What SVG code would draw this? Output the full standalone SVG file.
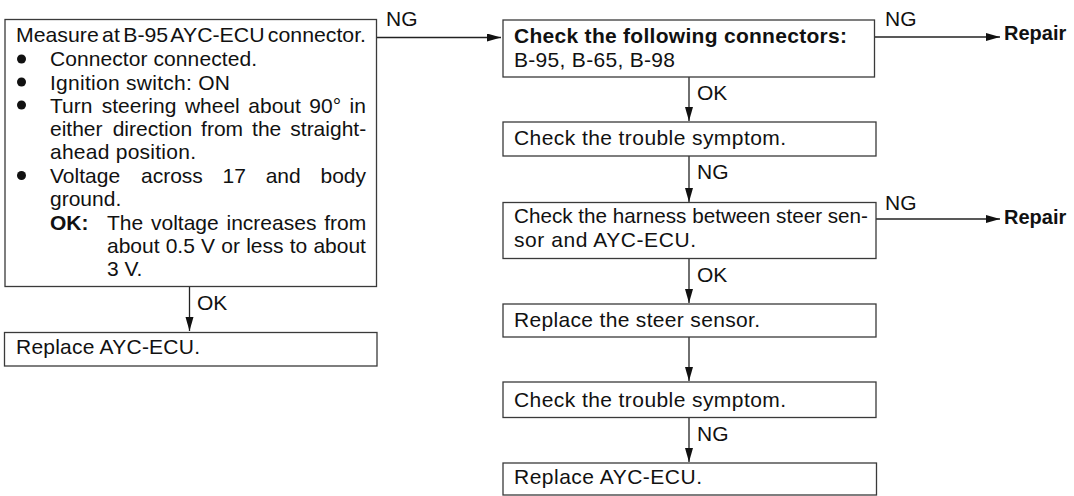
<svg xmlns="http://www.w3.org/2000/svg" width="1074" height="496" viewBox="0 0 1074 496">
<defs>
<style>
.box{fill:#fff;stroke:#3a3a3a;stroke-width:1.3}
.t{font-family:"Liberation Sans",Arial,sans-serif;font-size:21px;fill:#111}
.b{font-family:"Liberation Sans",Arial,sans-serif;font-size:21px;font-weight:bold;fill:#111}
.r{font-family:"Liberation Sans",Arial,sans-serif;font-size:20px;font-weight:bold;fill:#111}
.c{fill:none;stroke:#222;stroke-width:1.3}
</style>
<marker id="ah" markerUnits="userSpaceOnUse" markerWidth="15" markerHeight="9" refX="14" refY="4" orient="auto">
<path d="M0,0 L14,4 L0,8 z" fill="#111"/>
</marker>
</defs>
<rect width="1074" height="496" fill="#fff"/>

<g id="connectors">
<path class="c" d="M377,37.5 H501" marker-end="url(#ah)"/>
<path class="c" d="M875,37 H1000" marker-end="url(#ah)"/>
<path class="c" d="M876,219 H1000" marker-end="url(#ah)"/>
<path class="c" d="M189.5,287 V331" marker-end="url(#ah)"/>
<path class="c" d="M689,77 V121" marker-end="url(#ah)"/>
<path class="c" d="M689,156 V202" marker-end="url(#ah)"/>
<path class="c" d="M689,258 V303" marker-end="url(#ah)"/>
<path class="c" d="M689,337 V381" marker-end="url(#ah)"/>
<path class="c" d="M689,417 V462" marker-end="url(#ah)"/>
<text class="t" x="386" y="26">NG</text>
<text class="t" x="885" y="26">NG</text>
<text class="r" x="1004" y="40">Repair</text>
<text class="t" x="885" y="210">NG</text>
<text class="r" x="1004" y="224">Repair</text>
<text class="t" x="197" y="310">OK</text>
<text class="t" x="697" y="100">OK</text>
<text class="t" x="697" y="179">NG</text>
<text class="t" x="697" y="282">OK</text>
<text class="t" x="697" y="441">NG</text>
</g>

<g id="measure">
<rect class="box" x="5" y="19.5" width="371.5" height="267"/>
<text class="t" x="16" y="42" word-spacing="-2.5" textLength="350" lengthAdjust="spacingAndGlyphs">Measure at B-95 AYC-ECU connector.</text>
<circle cx="21.5" cy="59" r="4.5" fill="#111"/>
<text class="t" x="50" y="66" textLength="207">Connector connected.</text>
<circle cx="21.5" cy="82" r="4.5" fill="#111"/>
<text class="t" x="50" y="89.5" textLength="180">Ignition switch: ON</text>
<circle cx="21.5" cy="105" r="4.5" fill="#111"/>
<text class="t" y="112.5"><tspan x="50">Turn</tspan><tspan x="101.7">steering</tspan><tspan x="184.9">wheel</tspan><tspan x="248.3">about</tspan><tspan x="309.3">90°</tspan><tspan x="349.6">in</tspan></text>
<text class="t" y="136"><tspan x="50">either</tspan><tspan x="112.7">direction</tspan><tspan x="201.1">from</tspan><tspan x="252.1">the</tspan><tspan x="290.3">straight-</tspan></text>
<text class="t" x="50" y="159" textLength="146">ahead position.</text>
<circle cx="21.5" cy="175.5" r="4.5" fill="#111"/>
<text class="t" y="183"><tspan x="50">Voltage</tspan><tspan x="141">across</tspan><tspan x="222.6">17</tspan><tspan x="265.7">and</tspan><tspan x="320.5">body</tspan></text>
<text class="t" x="50" y="206">ground.</text>
<text class="b" x="50" y="229.5">OK:</text>
<text class="t" y="229.5"><tspan x="107">The</tspan><tspan x="151">voltage</tspan><tspan x="226.5">increases</tspan><tspan x="324.2">from</tspan></text>
<text class="t" y="253"><tspan x="107">about</tspan><tspan x="165.7">0.5</tspan><tspan x="201.1">V</tspan><tspan x="221.3">or</tspan><tspan x="246.2">less</tspan><tspan x="289.7">to</tspan><tspan x="313.4">about</tspan></text>
<text class="t" x="107" y="276">3 V.</text>
</g>

<g id="replace-ecu-left">
<rect class="box" x="4.5" y="332.5" width="372.5" height="33.5"/>
<text class="t" x="16" y="354" textLength="184">Replace AYC-ECU.</text>
</g>

<g id="check-connectors">
<rect class="box" x="503" y="20" width="371.5" height="57"/>
<text class="b" x="514" y="43" textLength="333">Check the following connectors:</text>
<text class="t" x="514" y="66.5" textLength="161">B-95, B-65, B-98</text>
</g>

<g id="trouble-1">
<rect class="box" x="503" y="122" width="373" height="34"/>
<text class="t" x="514" y="144.5" textLength="272">Check the trouble symptom.</text>
</g>

<g id="harness">
<rect class="box" x="503" y="202.5" width="373" height="56"/>
<text class="t" x="514" y="223" textLength="354" lengthAdjust="spacingAndGlyphs">Check the harness between steer sen-</text>
<text class="t" x="514" y="246.5" textLength="182">sor and AYC-ECU.</text>
</g>

<g id="steer-sensor">
<rect class="box" x="503" y="304" width="373" height="33"/>
<text class="t" x="514" y="326.5" textLength="246">Replace the steer sensor.</text>
</g>

<g id="trouble-2">
<rect class="box" x="503" y="382" width="373" height="35.5"/>
<text class="t" x="514" y="406.5" textLength="272">Check the trouble symptom.</text>
</g>

<g id="replace-ecu-right">
<rect class="box" x="503" y="463" width="373.5" height="32"/>
<text class="t" x="514" y="483.5" textLength="188">Replace AYC-ECU.</text>
</g>
</svg>
